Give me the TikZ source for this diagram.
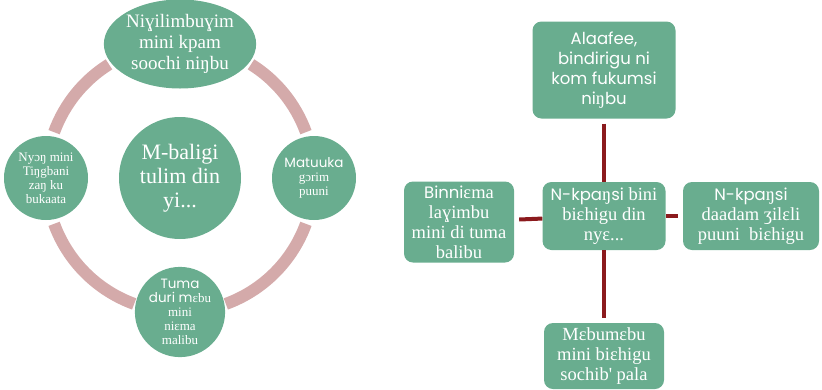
\documentclass[tikz,border=0pt]{standalone}
\usepackage{fontspec}
\setmainfont{Liberation Serif}
\newfontfamily\gothic{Poppins}
\usetikzlibrary{shapes.geometric}
\definecolor{leaf}{HTML}{69AD8F}
\definecolor{rose}{HTML}{D4AAAA}
\definecolor{wine}{HTML}{8B1A1D}
\tikzset{
  bubble/.style={circle, fill=leaf, text=white, align=center, inner sep=0pt, minimum size=84pt},
  card/.style={rounded corners=9pt, fill=leaf, text=white, align=center, inner sep=0pt},
  ring/.style={rose, line width=12pt},
  link/.style={wine, line width=4pt, shorten <=5pt}
}
\newcommand\gsmall[1]{{\gothic\fontsize{13.5}{14}\selectfont #1}}
\newcommand\gbig[1]{{\gothic\fontsize{16.5}{20}\selectfont #1}}

\begin{document}
\begin{tikzpicture}[x=1pt,y=-1pt]
      \useasboundingbox (0,0) rectangle (822,389);
      %%%%%%%%%%%%%%%%%%%%%%%%%%%%%%%%%%%%%%%%%%%%%%%
      \coordinate (hub) at (180,178);
      \draw[ring] ([shift={(20:134pt)}]hub) arc[start angle=20, end angle=58, radius=134pt];
      \draw[ring] ([shift={(122:134pt)}]hub) arc[start angle=122, end angle=160, radius=134pt];
      \draw[ring] ([shift={(200:134pt)}]hub) arc[start angle=200, end angle=250, radius=134pt];
      \draw[ring] ([shift={(290:134pt)}]hub) arc[start angle=290, end angle=340, radius=134pt];
      %%%%%%%%%%%%%%%%%%%%%%%%%%%%%%%%%%%%%%%%%%%%%%%
      \node[ellipse, fill=leaf, text=white, align=center, inner sep=0pt, minimum width=150pt, minimum height=89pt,
            font=\fontsize{19}{21}\selectfont] at (180,44) (c1)
            {Niɣilimbuɣim\\mini kpam\\soochi niŋbu};
      \node[bubble, minimum size=122pt, font=\fontsize{22}{24}\selectfont] at (180,178) (c0)
            {M-baligi\\tulim din\\yi...};
      \node[bubble, font=\fontsize{13}{14}\selectfont] at (314,178) (c2)
            {\gsmall{Matuuka}\\gɔrim\\puuni};
      \node[bubble, font=\fontsize{13}{14}\selectfont] at (180,312) (c3)
            {\gsmall{Tuma}\\\gsmall{duri m}ɛbu\\mini\\niɛma\\malibu};
      \node[bubble, font=\fontsize{13}{14}\selectfont] at (46,178) (c4)
            {Nyɔŋ mini\\Tiŋgbani\\zaŋ ku\\bukaata};
      %%%%%%%%%%%%%%%%%%%%%%%%%%%%%%%%%%%%%%%%%%%%%%%
      \node[card, minimum width=143pt, minimum height=97pt, font=\fontsize{18.5}{20}\selectfont] at (604,70) (b1)
            {\gbig{Alaafee,}\\\gbig{bindirigu ni}\\\gbig{kom fukumsi}\\\gbig{ni}ŋ\gbig{bu}};
      \node[card, minimum width=123pt, minimum height=68pt, font=\fontsize{18.5}{20}\selectfont] at (604,216) (b0)
            {\gbig{N-kpa}ŋ\gbig{si} bini\\biɛhigu din\\nyɛ...};
      \node[card, minimum width=110pt, minimum height=81pt, font=\fontsize{18.5}{20}\selectfont] at (459,222) (b2)
            {\gbig{Binni}ɛma\\laɣimbu\\mini di tuma\\balibu};
      \node[card, minimum width=136pt, minimum height=68pt, font=\fontsize{18.5}{20}\selectfont] at (751,216) (b3)
            {\gbig{N-kpa}ŋ\gbig{si}\\daadam ʒilɛli\\puuni~~biɛhigu};
      \node[card, minimum width=120pt, minimum height=66pt, font=\fontsize{18.5}{20}\selectfont] at (604,356) (b4)
            {Mɛbumɛbu\\mini biɛhigu\\sochib\textquotesingle{} pala};
      \draw[link] (b1) -- (b0);
      \draw[link] (b2) -- (b0);
      \draw[link] (b3) -- (b0);
      \draw[link] (b4) -- (b0);
      %%%%%%%%%%%%%%%%%%%%%%%%%%%%%%%%%%%%%%%%%%%%%%%
\end{tikzpicture}
\end{document}
